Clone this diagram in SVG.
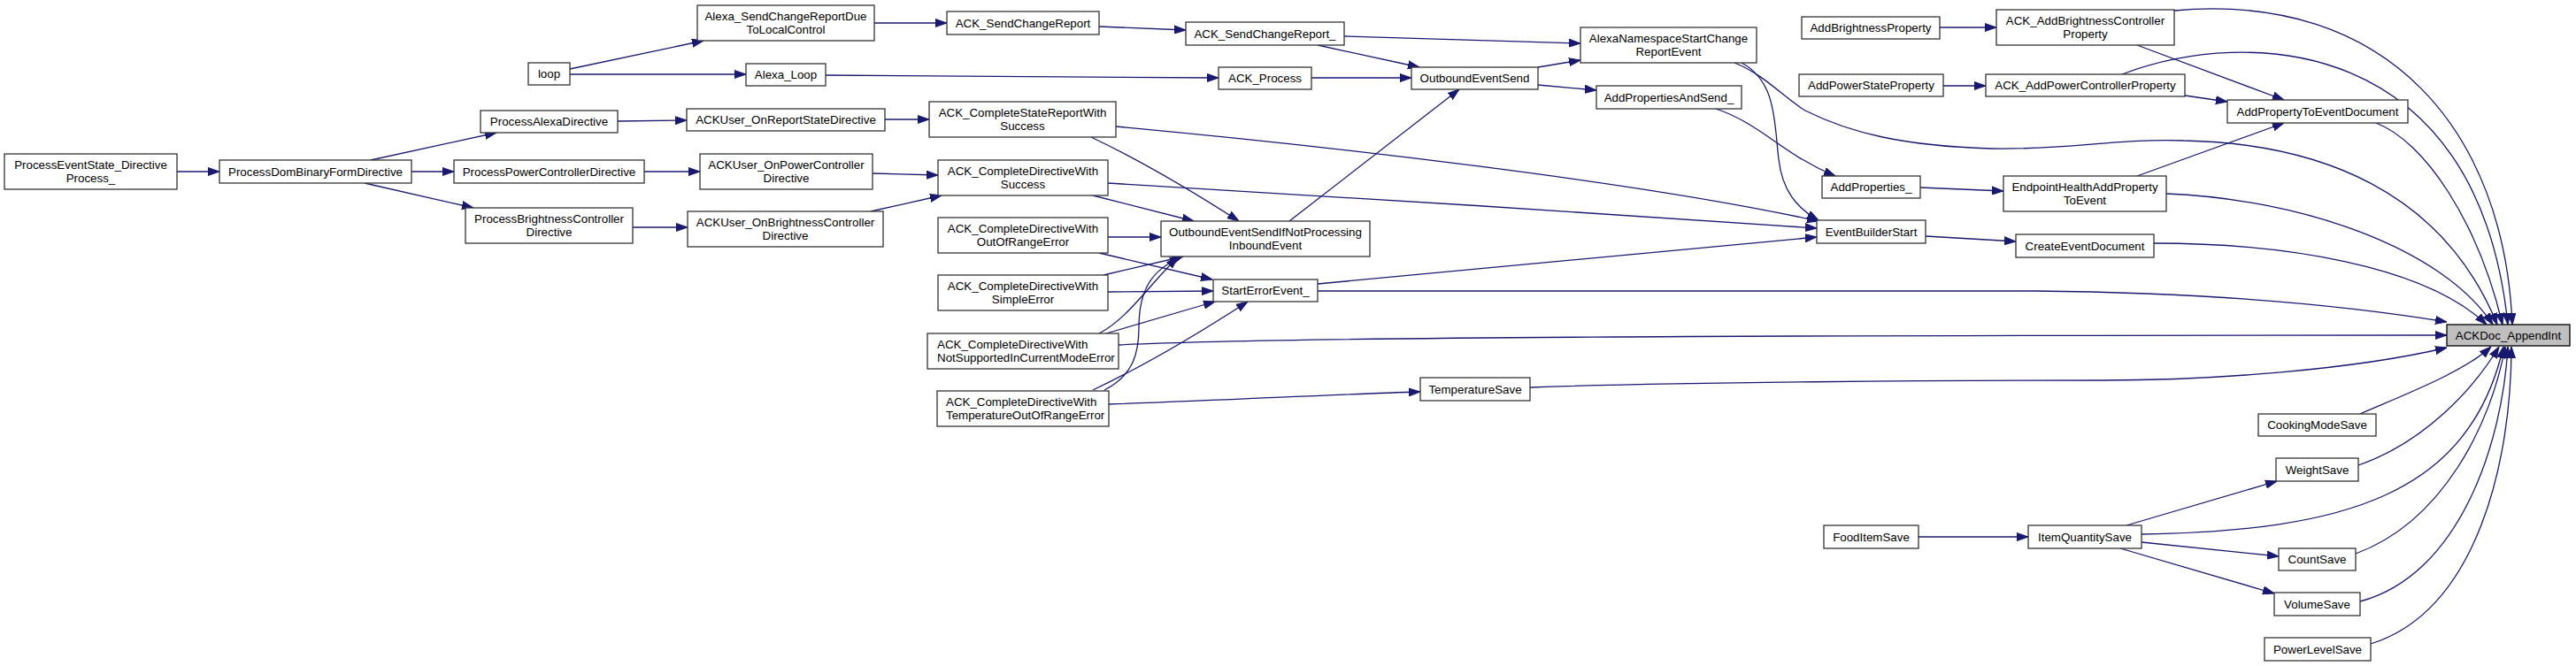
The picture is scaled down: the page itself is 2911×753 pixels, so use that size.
<svg xmlns="http://www.w3.org/2000/svg" width="2911" height="753" viewBox="0 0 2911 753">
<style>
.node rect{fill:#ffffff;stroke:#333333;stroke-width:1.3}
.node.root rect{fill:#bfbfbf;stroke:#000000}
.node text{font-family:"Liberation Sans",Arial,Helvetica,sans-serif;font-size:13.33px;fill:#000000;text-anchor:middle}
.node text.l{text-anchor:start}
.edges path{fill:none;stroke:#191970;stroke-width:1.3;marker-end:url(#ah)}
</style>
<defs>
<marker id="ah" viewBox="0 0 13 10" refX="13" refY="5" markerWidth="13" markerHeight="10" markerUnits="userSpaceOnUse" orient="auto">
<path d="M0,0.5 L13,5 L0,9.5 z" fill="#191970" stroke="#191970" stroke-width="1"/>
</marker>
</defs>
<rect x="0" y="0" width="2911" height="753" fill="#ffffff"/>
<g class="edges">
<path d="M200,194 L248,194"/>
<path d="M419,181 L561,150"/>
<path d="M465,194 L513,194"/>
<path d="M412,207 L535,235"/>
<path d="M644,78 L795,46"/>
<path d="M644,84 L843,84"/>
<path d="M698,137 L776,136"/>
<path d="M728,194 L791,194"/>
<path d="M715,257 L777,257"/>
<path d="M988,26 L1070,26"/>
<path d="M933,85 L1377,88"/>
<path d="M1000,135 L1050,135"/>
<path d="M986,196 L1060,198"/>
<path d="M984,239 L1064,221"/>
<path d="M1242,30 L1340,34"/>
<path d="M1519,41 L1786,49"/>
<path d="M1489,51 L1604,76"/>
<path d="M1482,88 L1595,88"/>
<path d="M1233,155 C1275,175 1330,205 1400,250"/>
<path d="M1261,143 C1500,165 1850,205 2055,250"/>
<path d="M1235,221 L1349,250"/>
<path d="M1252,207 C1500,222 1800,240 2053,258"/>
<path d="M1252,268 L1312,268"/>
<path d="M1242,286 L1370,316"/>
<path d="M1247,311 L1337,290"/>
<path d="M1252,330 L1371,329"/>
<path d="M1242,377 C1275,360 1300,320 1331,291"/>
<path d="M1250,377 L1373,341"/>
<path d="M1264,390 C1450,381 2000,379 2765,379"/>
<path d="M1248,441 C1280,425 1287,400 1287,370 C1287,330 1300,305 1335,291"/>
<path d="M1235,441 C1290,415 1350,380 1410,341"/>
<path d="M1253,457 C1400,452 1500,446 1605,443"/>
<path d="M1457,250 L1649,101"/>
<path d="M1738,76 L1786,68"/>
<path d="M1738,96 L1804,102"/>
<path d="M1489,321 L2053,268"/>
<path d="M1489,329 L2300,329 C2500,331 2650,345 2765,364"/>
<path d="M1968,71 C2008,92 2005,140 2010,180 C2014,215 2030,235 2055,249"/>
<path d="M1960,71 C1995,85 2015,110 2040,125 C2090,150 2150,165 2250,168 C2330,170 2400,156 2468,159 C2620,162 2760,215 2822,367"/>
<path d="M1939,123 C1990,140 2015,175 2074,199"/>
<path d="M2192,31 L2256,31"/>
<path d="M2196,97 L2244,97"/>
<path d="M2170,212 L2264,216"/>
<path d="M2176,267 L2278,273"/>
<path d="M2415,51 L2581,113"/>
<path d="M2457,12 C2700,-10 2830,150 2839,367"/>
<path d="M2469,108 L2517,115"/>
<path d="M2398,84 C2540,30 2800,40 2834,367"/>
<path d="M2415,199 L2581,139"/>
<path d="M2448,219 C2600,225 2760,280 2817,367"/>
<path d="M2685,139 C2740,160 2800,250 2828,367"/>
<path d="M2434,275 C2580,275 2740,300 2810,367"/>
<path d="M1729,438 C1900,432 2200,430 2375,430 C2500,430 2660,418 2765,393"/>
<path d="M2667,468 C2720,445 2785,420 2815,392"/>
<path d="M2665,526 C2740,500 2795,440 2824,392"/>
<path d="M2420,604 C2650,600 2790,560 2829,392"/>
<path d="M2662,626 C2760,590 2815,480 2831,392"/>
<path d="M2667,680 C2780,650 2828,500 2834,392"/>
<path d="M2679,728 C2800,690 2838,520 2838,392"/>
<path d="M2168,607 L2292,607"/>
<path d="M2403,594 L2573,544"/>
<path d="M2420,613 L2575,629"/>
<path d="M2396,620 L2570,671"/>
</g>
<g id="n1" class="node"><rect x="5" y="174" width="195" height="40"/><text x="102.5" y="190.5">ProcessEventState_Directive</text><text x="102.5" y="205.5">Process_</text></g>
<g id="n2" class="node"><rect x="248" y="181" width="217" height="26"/><text x="356.5" y="198.7">ProcessDomBinaryFormDirective</text></g>
<g id="n3" class="node"><rect x="543" y="125" width="155" height="25"/><text x="620.5" y="142.2">ProcessAlexaDirective</text></g>
<g id="n4" class="node"><rect x="513" y="181" width="215" height="26"/><text x="620.5" y="198.7">ProcessPowerControllerDirective</text></g>
<g id="n5" class="node"><rect x="526" y="235" width="189" height="40"/><text x="620.5" y="251.5">ProcessBrightnessController</text><text x="620.5" y="266.5">Directive</text></g>
<g id="n6" class="node"><rect x="597" y="71" width="47" height="25"/><text x="620.5" y="88.2">loop</text></g>
<g id="n7" class="node"><rect x="788" y="6" width="200" height="40"/><text x="888" y="22.5">Alexa_SendChangeReportDue</text><text x="888" y="37.5">ToLocalControl</text></g>
<g id="n8" class="node"><rect x="843" y="72" width="90" height="25"/><text x="888" y="89.2">Alexa_Loop</text></g>
<g id="n9" class="node"><rect x="776" y="123" width="224" height="25"/><text x="888" y="140.2">ACKUser_OnReportStateDirective</text></g>
<g id="n10" class="node"><rect x="791" y="174" width="195" height="40"/><text x="888.5" y="190.5">ACKUser_OnPowerController</text><text x="888.5" y="205.5">Directive</text></g>
<g id="n11" class="node"><rect x="777" y="239" width="221" height="40"/><text x="887.5" y="255.5">ACKUser_OnBrightnessController</text><text x="887.5" y="270.5">Directive</text></g>
<g id="n12" class="node"><rect x="1070" y="13" width="172" height="26"/><text x="1156" y="30.7">ACK_SendChangeReport</text></g>
<g id="n13" class="node"><rect x="1050" y="115" width="211" height="40"/><text x="1155.5" y="131.5">ACK_CompleteStateReportWith</text><text x="1155.5" y="146.5">Success</text></g>
<g id="n14" class="node"><rect x="1060" y="181" width="192" height="40"/><text x="1156" y="197.5">ACK_CompleteDirectiveWith</text><text x="1156" y="212.5">Success</text></g>
<g id="n15" class="node"><rect x="1060" y="246" width="192" height="40"/><text x="1156" y="262.5">ACK_CompleteDirectiveWith</text><text x="1156" y="277.5">OutOfRangeError</text></g>
<g id="n16" class="node"><rect x="1060" y="311" width="192" height="40"/><text x="1156" y="327.5">ACK_CompleteDirectiveWith</text><text x="1156" y="342.5">SimpleError</text></g>
<g id="n17" class="node"><rect x="1048" y="377" width="216" height="40"/><text class="l" x="1059" y="393.5">ACK_CompleteDirectiveWith</text><text class="l" x="1059" y="408.5">NotSupportedInCurrentModeError</text></g>
<g id="n18" class="node"><rect x="1059" y="442" width="194" height="40"/><text class="l" x="1069" y="458.5">ACK_CompleteDirectiveWith</text><text class="l" x="1069" y="473.5">TemperatureOutOfRangeError</text></g>
<g id="n19" class="node"><rect x="1340" y="25" width="179" height="26"/><text x="1429.5" y="42.7">ACK_SendChangeReport_</text></g>
<g id="n20" class="node"><rect x="1377" y="76" width="105" height="25"/><text x="1429.5" y="93.2">ACK_Process</text></g>
<g id="n21" class="node"><rect x="1312" y="250" width="236" height="40"/><text x="1430" y="266.5">OutboundEventSendIfNotProcessing</text><text x="1430" y="281.5">InboundEvent</text></g>
<g id="n22" class="node"><rect x="1371" y="316" width="118" height="25"/><text x="1430" y="333.2">StartErrorEvent_</text></g>
<g id="n23" class="node"><rect x="1595" y="76" width="143" height="25"/><text x="1666.5" y="93.2">OutboundEventSend</text></g>
<g id="n24" class="node"><rect x="1605" y="427" width="124" height="26"/><text x="1667" y="444.7">TemperatureSave</text></g>
<g id="n25" class="node"><rect x="1786" y="31" width="199" height="40"/><text x="1885.5" y="47.5">AlexaNamespaceStartChange</text><text x="1885.5" y="62.5">ReportEvent</text></g>
<g id="n26" class="node"><rect x="1804" y="97" width="164" height="26"/><text x="1886" y="114.7">AddPropertiesAndSend_</text></g>
<g id="n27" class="node"><rect x="2036" y="19" width="156" height="25"/><text x="2114" y="36.2">AddBrightnessProperty</text></g>
<g id="n28" class="node"><rect x="2033" y="84" width="163" height="25"/><text x="2114.5" y="101.2">AddPowerStateProperty</text></g>
<g id="n29" class="node"><rect x="2059" y="199" width="111" height="25"/><text x="2114.5" y="216.2">AddProperties_</text></g>
<g id="n30" class="node"><rect x="2053" y="249" width="123" height="26"/><text x="2114.5" y="266.7">EventBuilderStart</text></g>
<g id="n31" class="node"><rect x="2061" y="594" width="107" height="26"/><text x="2114.5" y="611.7">FoodItemSave</text></g>
<g id="n32" class="node"><rect x="2256" y="11" width="201" height="40"/><text x="2356.5" y="27.5">ACK_AddBrightnessController</text><text x="2356.5" y="42.5">Property</text></g>
<g id="n33" class="node"><rect x="2244" y="84" width="225" height="25"/><text x="2356.5" y="101.2">ACK_AddPowerControllerProperty</text></g>
<g id="n34" class="node"><rect x="2264" y="199" width="184" height="40"/><text x="2356" y="215.5">EndpointHealthAddProperty</text><text x="2356" y="230.5">ToEvent</text></g>
<g id="n35" class="node"><rect x="2278" y="265" width="156" height="26"/><text x="2356" y="282.7">CreateEventDocument</text></g>
<g id="n36" class="node"><rect x="2292" y="594" width="128" height="26"/><text x="2356" y="611.7">ItemQuantitySave</text></g>
<g id="n37" class="node"><rect x="2517" y="113" width="204" height="26"/><text x="2619" y="130.7">AddPropertyToEventDocument</text></g>
<g id="n38" class="node"><rect x="2552" y="468" width="133" height="25"/><text x="2618.5" y="485.2">CookingModeSave</text></g>
<g id="n39" class="node"><rect x="2572" y="518" width="93" height="26"/><text x="2618.5" y="535.7">WeightSave</text></g>
<g id="n40" class="node"><rect x="2575" y="620" width="87" height="25"/><text x="2618.5" y="637.2">CountSave</text></g>
<g id="n41" class="node"><rect x="2570" y="670" width="97" height="26"/><text x="2618.5" y="687.7">VolumeSave</text></g>
<g id="n42" class="node"><rect x="2559" y="721" width="120" height="26"/><text x="2619" y="738.7">PowerLevelSave</text></g>
<g id="n43" class="node root"><rect x="2765" y="367" width="139" height="24"/><text x="2834.5" y="383.7">ACKDoc_AppendInt</text></g>
</svg>
